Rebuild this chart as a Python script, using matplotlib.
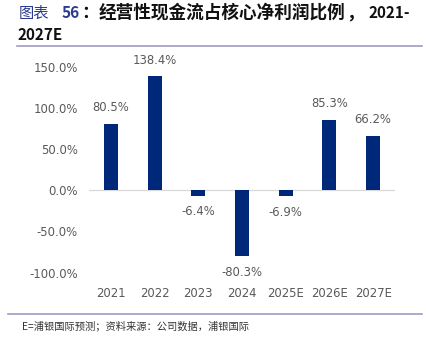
import matplotlib
matplotlib.use('Agg')
import matplotlib.pyplot as plt
from matplotlib.lines import Line2D

# data
years = ['2021', '2022', '2023', '2024', '2025E', '2026E', '2027E']
ratio = [80.5, 138.4, -6.4, -80.3, -6.9, 85.3, 66.2]
y_ticks = [-100, -50, 0, 50, 100, 150]

cjk = ['Noto Sans CJK SC', 'DejaVu Sans']
bar_col = '#00287A'
txt_col = '#595959'
rule_col = '#A09BC6'
W, H = 427, 339

fig = plt.figure(figsize=(4.27, 3.39), dpi=100)
ax = fig.add_axes([89/W, 1-272.7/H, 306/W, (272.7-66.7)/H])

x = list(range(len(years)))
ax.bar(x, ratio, width=0.32, color=bar_col, zorder=2)
ax.axhline(0, color='#D9D9D9', lw=0.9, zorder=1)

ax.set_xlim(-0.5, 6.5)
ax.set_ylim(-100, 150)
ax.set_yticks(y_ticks)
ax.set_yticklabels([f'{v:.1f}%' for v in y_ticks])
ax.set_xticks(x)
ax.set_xticklabels(years)
for s in ax.spines.values():
    s.set_visible(False)
ax.tick_params(axis='y', length=0, pad=8, labelsize=8.4, labelcolor=txt_col)
ax.tick_params(axis='x', length=0, pad=10, labelsize=8.4, labelcolor=txt_col)

for xi, v in zip(x, ratio):
    if v >= 0:
        ax.annotate(f'{v:.1f}%', (xi, v), xytext=(0, 7), textcoords='offset points',
                    ha='center', va='bottom', fontsize=8.4, color=txt_col)
    else:
        ax.annotate(f'{v:.1f}%', (xi, v), xytext=(0, -7), textcoords='offset points',
                    ha='center', va='top', fontsize=8.4, color=txt_col)

# title pieces (x in pixels, text, colour, size, weight)
title_parts = [
    (19, '图表', '#2B3A8F', 11, 'normal'),
    (62, '56', '#2B3A8F', 11, 'bold'),
    (81, '：', '#111111', 12.7, 'bold'),
    (99, '经营性现金流占核心净利润比例', '#111111', 12.7, 'bold'),
    (346, '，', '#111111', 12.7, 'bold'),
    (369, '2021-', '#111111', 11, 'bold'),
]
for px, s, c, fs, w in title_parts:
    fig.text(px/W, 1-13/H, s, color=c, fontsize=fs, fontweight=w,
             family=cjk, va='center', ha='left')
fig.text(18/W, 1-35/H, '2027E', color='#111111', fontsize=11, fontweight='bold',
         family=cjk, va='center', ha='left')

fig.add_artist(Line2D([17/W, 422/W], [1-45.5/H, 1-45.5/H], color=rule_col, lw=1.2))
fig.add_artist(Line2D([8/W, 422/W], [1-313.5/H, 1-313.5/H], color=rule_col, lw=1.2))
fig.text(22/W, 1-326/H, 'E=浦银国际预测；资料来源：公司数据，浦银国际', color='#333333',
         fontsize=7.4, family=cjk, va='center', ha='left')

fig.savefig('out.png', dpi=100)
